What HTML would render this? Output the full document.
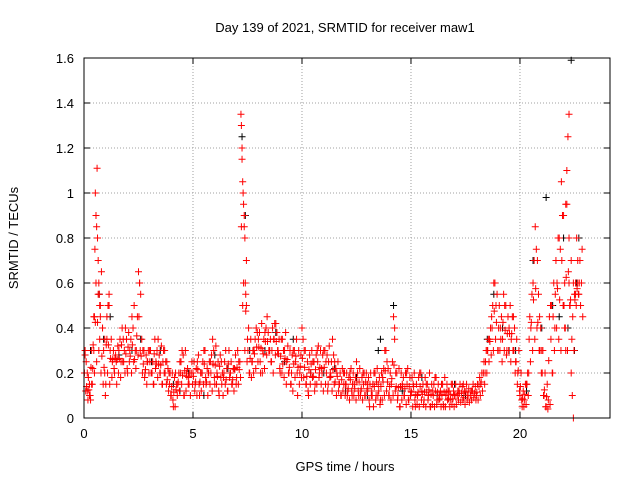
<!DOCTYPE html>
<html><head><meta charset="utf-8"><style>
body{margin:0;background:#fff;}
svg text{font-family:"Liberation Sans",sans-serif;font-size:13px;fill:#000;}
</style></head><body>
<svg id="chart" width="640" height="480" xmlns="http://www.w3.org/2000/svg">
<rect width="640" height="480" fill="#fff"/>
<text x="345" y="32" text-anchor="middle">Day 139 of 2021, SRMTID for receiver maw1</text>
<text x="345" y="471" text-anchor="middle">GPS time / hours</text>
<text x="18" y="238" text-anchor="middle" transform="rotate(-90 18 238)">SRMTID / TECUs</text>
<g id="grid"></g>
<g id="axes"></g>
<g id="black"></g>
<g id="red"></g>
<rect x="84" y="58" width="526" height="360" fill="none" stroke="#000" stroke-width="1"/>
</svg>
<script>
const xTicks=[0,5,10,15,20];
const yTicks=[0,0.2,0.4,0.6,0.8,1,1.2,1.4,1.6];
const yTickLabels=["0","0.2","0.4","0.6","0.8","1","1.2","1.4","1.6"];
const redPoints=[
[0.05,0.3],[0.1,0.25],[0.15,0.12],[0.2,0.18],[0.25,0.1],[0.3,0.08],[0.35,0.15],[0.4,0.22],[0.45,0.3],[0.48,0.45],
[0.5,0.75],[0.52,1.0],[0.55,0.9],[0.58,0.85],[0.6,1.11],[0.62,0.8],[0.65,0.7],[0.68,0.6],[0.7,0.55],[0.72,0.5],
[0.75,0.45],[0.8,0.65],[0.85,0.4],[0.9,0.3],[0.95,0.2],[1.0,0.15],[1.05,0.35],[1.1,0.5],[1.15,0.55],[1.2,0.3],
[1.3,0.25],[1.4,0.2],[1.5,0.15],[1.6,0.3],[1.7,0.25],[1.8,0.35],[1.9,0.4],[2.0,0.2],[2.1,0.3],[2.2,0.45],
[2.3,0.5],[2.4,0.3],[2.5,0.65],[2.55,0.6],[2.6,0.55],[2.7,0.3],[2.8,0.2],[2.9,0.25],[3.0,0.3],[3.1,0.2],
[3.2,0.15],[3.3,0.25],[3.4,0.35],[3.5,0.2],[3.6,0.15],[3.7,0.3],[3.8,0.25],[3.9,0.2],[4.0,0.1],[4.1,0.05],
[4.2,0.2],[4.3,0.15],[4.4,0.25],[4.5,0.3],[4.6,0.1],[4.7,0.2],[4.8,0.18],[5.0,0.2],[5.1,0.15],[5.2,0.25],
[5.3,0.1],[5.4,0.2],[5.5,0.3],[5.6,0.15],[5.7,0.2],[5.8,0.25],[5.9,0.35],[6.0,0.15],[6.1,0.2],[6.2,0.1],
[6.3,0.25],[6.4,0.18],[6.5,0.3],[6.6,0.12],[6.7,0.2],[6.8,0.15],[6.9,0.22],[7.0,0.18],[7.1,0.25],[7.2,1.35],
[7.22,1.3],[7.25,1.15],[7.28,1.05],[7.3,1.0],[7.32,0.95],[7.35,0.85],[7.38,0.8],[7.4,0.6],[7.42,0.55],[7.45,0.5],
[7.5,0.35],[7.6,0.2],[7.7,0.25],[7.8,0.3],[7.9,0.4],[8.0,0.35],[8.1,0.2],[8.2,0.3],[8.3,0.38],[8.4,0.45],
[8.5,0.3],[8.6,0.25],[8.7,0.35],[8.8,0.42],[8.9,0.3],[9.0,0.2],[9.1,0.35],[9.2,0.3],[9.3,0.25],[9.4,0.2],
[9.5,0.15],[9.6,0.3],[9.7,0.25],[9.8,0.1],[9.9,0.2],[10.0,0.4],[10.1,0.3],[10.2,0.15],[10.3,0.1],[10.4,0.2],
[10.5,0.25],[10.6,0.15],[10.7,0.3],[10.8,0.2],[10.9,0.22],[11.0,0.3],[11.1,0.25],[11.2,0.15],[11.3,0.2],[11.4,0.35],
[11.5,0.25],[11.6,0.2],[11.7,0.15],[11.8,0.1],[11.9,0.2],[12.0,0.15],[12.1,0.12],[12.2,0.2],[12.3,0.1],[12.4,0.15],
[12.5,0.25],[12.6,0.1],[12.7,0.12],[12.8,0.2],[12.9,0.1],[13.0,0.15],[13.1,0.05],[13.2,0.12],[13.3,0.2],[13.4,0.1],
[13.5,0.15],[13.6,0.08],[13.7,0.18],[13.8,0.3],[13.9,0.25],[14.0,0.1],[14.1,0.15],[14.2,0.45],[14.25,0.4],[14.3,0.2],
[14.4,0.1],[14.5,0.05],[14.6,0.15],[14.7,0.1],[14.8,0.2],[14.9,0.08],[15.0,0.12],[15.1,0.15],[15.2,0.05],[15.3,0.1],
[15.4,0.2],[15.5,0.12],[15.6,0.08],[15.7,0.15],[15.8,0.1],[15.9,0.05],[16.0,0.12],[16.1,0.18],[16.2,0.08],[16.3,0.1],
[16.4,0.15],[16.5,0.05],[16.6,0.1],[16.7,0.12],[16.8,0.08],[16.9,0.15],[17.0,0.1],[17.2,0.12],[17.4,0.15],[17.6,0.1],
[17.8,0.12],[18.0,0.1],[18.2,0.15],[18.4,0.2],[18.5,0.3],[18.6,0.35],[18.7,0.45],[18.8,0.6],[18.9,0.5],[19.0,0.3],
[19.1,0.4],[19.2,0.35],[19.3,0.5],[19.4,0.3],[19.5,0.4],[19.6,0.35],[19.7,0.45],[19.8,0.25],[19.9,0.2],[20.0,0.1],
[20.1,0.05],[20.2,0.08],[20.3,0.15],[20.4,0.2],[20.5,0.4],[20.6,0.6],[20.7,0.85],[20.8,0.7],[20.9,0.45],[21.0,0.3],
[21.1,0.1],[21.2,0.05],[21.3,0.08],[21.4,0.5],[21.5,0.2],[21.6,0.4],[21.7,0.6],[21.8,0.8],[21.9,1.05],[22.0,0.9],
[22.05,0.4],[22.1,0.3],[22.15,1.1],[22.2,1.25],[22.25,0.6],[22.3,0.5],[22.35,0.2],[22.4,0.1],[22.45,0.0],[22.5,0.55],
[22.55,0.6],[22.6,0.8],[22.65,0.7],[22.7,0.55],[22.25,1.35],[22.1,0.95]
];
// dense band samples at 0.1 h spacing (upper part / lower part of the band)
const redBandUpper=[
.28,.2,.15,.3,.45,.6,.55,.5,.4,.35, .45,.5,.35,.3,.28,.32,.35,.4,.3,.35,
.38,.35,.4,.3,.45,.6,.35,.3,.28,.3, .3,.25,.35,.3,.28,.32,.3,.25,.22,.2,
.2,.18,.15,.2,.25,.28,.3,.22,.2,.25, .25,.22,.28,.2,.25,.3,.22,.25,.28,.3,
.32,.25,.28,.2,.25,.22,.3,.25,.22,.28, .3,.25,1.2,.9,.7,.4,.35,.3,.35,.38,
.38,.42,.35,.4,.38,.35,.4,.42,.38,.35, .35,.3,.38,.32,.3,.28,.3,.35,.3,.28,
.35,.3,.25,.28,.3,.25,.28,.32,.3,.28, .3,.28,.32,.25,.28,.22,.25,.2,.22,.2,
.2,.18,.22,.2,.18,.2,.22,.18,.2,.2, .18,.2,.15,.2,.22,.18,.2,.22,.3,.22,
.2,.25,.35,.2,.22,.2,.18,.2,.22,.18, .18,.2,.15,.18,.2,.15,.18,.15,.2,.15,
.15,.18,.15,.12,.15,.18,.15,.12,.15,.12, .15,.12,.15,.14,.12,.15,.13,.12,.15,.14,
.15,.18,.2,.25,.3,.35,.4,.5,.6,.55, .5,.45,.55,.5,.45,.5,.45,.4,.35,.3,
.2,.12,.15,.2,.45,.55,.7,.75,.55,.4, .3,.2,.15,.45,.5,.6,.7,.8,.75,.9,
.6,.95,.8,.7,.6,.55,.6,.7,.75
];
const redBandLower=[
.12,.08,.1,.15,.2,.25,.3,.2,.15,.1, .2,.15,.18,.22,.25,.2,.18,.25,.2,.22,
.25,.2,.25,.22,.28,.3,.2,.18,.15,.2, .2,.15,.22,.18,.2,.15,.2,.15,.12,.1,
.08,.05,.1,.12,.15,.1,.12,.15,.1,.15, .12,.1,.15,.12,.15,.18,.1,.15,.12,.18,
.15,.12,.18,.1,.15,.12,.18,.15,.12,.15, .15,.18,.5,.3,.25,.2,.18,.2,.22,.25,
.25,.2,.22,.28,.3,.25,.2,.28,.3,.22, .2,.18,.15,.2,.15,.12,.18,.2,.15,.18,
.18,.15,.12,.15,.18,.12,.15,.18,.15,.12, .15,.12,.18,.12,.15,.1,.12,.1,.12,.1,
.1,.08,.12,.1,.08,.12,.1,.08,.1,.12, .08,.1,.05,.08,.1,.06,.08,.1,.12,.1,
.08,.1,.12,.08,.05,.08,.1,.06,.08,.1, .05,.08,.06,.05,.08,.06,.05,.08,.05,.06,
.05,.06,.08,.05,.06,.05,.08,.05,.06,.05, .06,.08,.07,.08,.06,.08,.07,.08,.09,.08,
.08,.1,.12,.15,.2,.25,.28,.3,.35,.3, .3,.25,.3,.28,.3,.25,.3,.2,.15,.12,
.08,.05,.06,.1,.25,.3,.35,.4,.3,.2, .1,.05,.04,.06,.2,.3,.4,.35,.3,.5,
.4,.3,.5,.35,.3,.5,.55,.5,.45
];
const blackPoints=[
[0.3,0.3],[0.7,0.55],[1.2,0.45],[2.6,0.35],[3.5,0.3],[4.4,0.12],[6.0,0.28],[7.25,1.25],[7.4,0.9],[8.3,0.3],
[9.6,0.35],[11.0,0.2],[12.5,0.18],[13.5,0.3],[14.2,0.5],[15.5,0.18],[17.0,0.15],[18.8,0.55],[19.5,0.3],[20.6,0.7],
[21.2,0.98],[21.8,0.45],[22.0,0.8],[22.35,1.59],[22.6,0.6],[22.7,0.8],
[0.9,0.35],[1.6,0.28],[2.2,0.3],[3.1,0.25],[4.1,0.15],[4.8,0.2],[5.5,0.1],[6.6,0.22],[7.6,0.3],[8.8,0.38],
[9.2,0.25],[10.4,0.2],[11.5,0.22],[12.0,0.12],[13.0,0.1],[13.6,0.35],[14.6,0.12],[16.2,0.1],[17.5,0.1],[18.5,0.35],
[19.2,0.4],[19.8,0.3],[20.3,0.12],[21.0,0.4],[21.5,0.5],[22.2,0.4],[22.5,0.3]
];
const NS="http://www.w3.org/2000/svg";
const X0=84,X1=610,Y0=418,Y1=58,XMAX=24.13,YMAX=1.6;
function sx(v){return X0+(X1-X0)*v/XMAX;}
function sy(v){return Y0-(Y0-Y1)*v/YMAX;}
const grid=document.getElementById('grid'),axes=document.getElementById('axes');
function mk(tag,attrs,parent){const e=document.createElementNS(NS,tag);for(const k in attrs)e.setAttribute(k,attrs[k]);parent.appendChild(e);return e;}
xTicks.forEach(t=>{
 const x=sx(t);
 if(t>0){const g=mk('line',{x1:x,x2:x,y1:Y0,y2:Y1,stroke:'#a0a0a0','stroke-dasharray':'1,2'},grid);
 
 }
 mk('line',{x1:x,x2:x,y1:Y0,y2:Y0-6,stroke:'#000'},axes);
 mk('line',{x1:x,x2:x,y1:Y1,y2:Y1+6,stroke:'#000'},axes);
 const tx=mk('text',{x:x,y:Y0+20,'text-anchor':'middle'},axes);tx.textContent=t;
 
 
});
yTicks.forEach((t,i)=>{
 const y=sy(t);
 if(t>0&&t<YMAX){const g=mk('line',{x1:X0,x2:X1,y1:y,y2:y,stroke:'#a0a0a0','stroke-dasharray':'1,2'},grid);
 
 }
 mk('line',{x1:X0,x2:X0+6,y1:y,y2:y,stroke:'#000'},axes);
 mk('line',{x1:X1,x2:X1-6,y1:y,y2:y,stroke:'#000'},axes);
 const tx=mk('text',{x:X0-10,y:y+5,'text-anchor':'end'},axes);tx.textContent=yTickLabels[i];
 
 
});
function plus(pts,color,gid){
 const g=document.getElementById(gid);
 pts.forEach(p=>{
  const x=sx(p[0]),y=sy(p[1]);
  const e=mk('path',{d:`M${x-3.5},${y}h7M${x},${y-3.5}v7`,stroke:color,'stroke-width':1,fill:'none'},g);
  
  
 });
}
plus(blackPoints,'#000','black');
plus(redPoints,'#ff0000','red');
plus(redBandUpper.map((v,i)=>[0.05+i*0.1,v]),'#ff0000','red');
plus(redBandLower.map((v,i)=>[0.08+i*0.1,v]),'#ff0000','red');
plus(redBandUpper.map((v,i)=>[0.02+i*0.1,(v+redBandLower[i])/2]),'#ff0000','red');
</script>
</body></html>
